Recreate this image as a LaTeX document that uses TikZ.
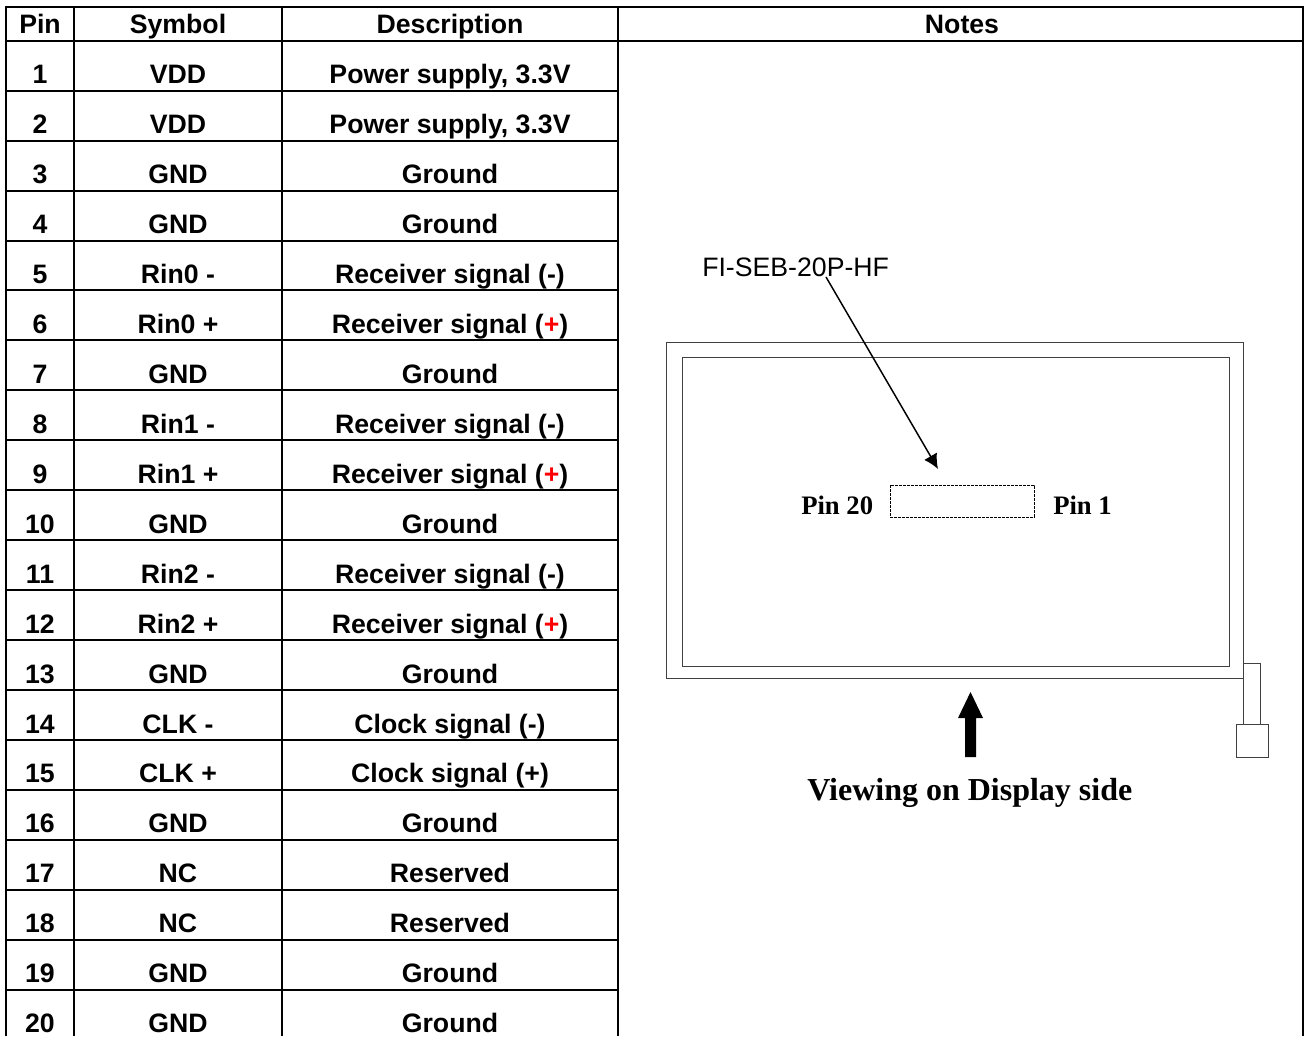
\documentclass[tikz,border=0pt]{standalone}
\usepackage{fontspec}
\setmainfont{Liberation Sans}
\newfontfamily\serifbold{Liberation Serif}[BoldFont={Liberation Serif Bold}]
\usetikzlibrary{arrows.meta}
\begin{document}
\begin{tikzpicture}[x=0.75pt,y=-0.75pt,
 grid/.style={line width=1.6pt,black},
 thin box/.style={draw=black!75,line width=0.75pt},
 cell/.style={inner sep=0pt,anchor=base,font=\fontsize{20}{22}\selectfont\bfseries},
 serif label/.style={inner sep=0pt,anchor=base west,font=\fontsize{20}{22}\serifbold\bfseries},
 callout/.style={draw=black,line width=1.1pt,-{Latex[length=11pt,width=11pt]}}]
\useasboundingbox (0,0) rectangle (1306,1036);
\fill[white] (0,0) rectangle (1306,1036);
% table grid
\draw[grid] (6,1036)--(6,7)--(1303,7)--(1303,1036);
\foreach \x in {74,282,618} \draw[grid] (\x,7)--(\x,1036);
\draw[grid] (6,41)--(1303,41);
\foreach \y in {91,141,191,241,290,340,390,440,490,540,590,640,690,740,790,840,890,940,990}
  \draw[grid] (6,\y)--(618,\y);
% header
\node[cell] (hp) at (40,33) {Pin};
\node[cell] (hs) at (178,33) {Symbol};
\node[cell] (hd) at (450,33) {Description};
\node[cell] (hn) at (962,33) {Notes};
% rows
\newcommand{\rowcells}[4]{%
 \node[cell] (p#2) at (40,#1) {#2};
 \node[cell] (s#2) at (178,#1) {#3};
 \node[cell] (d#2) at (450,#1) {#4};}
\newcommand{\redplus}{\textcolor{red}{+}}
\rowcells{83}{1}{VDD}{Power supply, 3.3V}
\rowcells{133}{2}{VDD}{Power supply, 3.3V}
\rowcells{183}{3}{GND}{Ground}
\rowcells{233}{4}{GND}{Ground}
\rowcells{283}{5}{Rin0 -}{Receiver signal (-)}
\rowcells{333}{6}{Rin0 +}{Receiver signal (\redplus)}
\rowcells{383}{7}{GND}{Ground}
\rowcells{433}{8}{Rin1 -}{Receiver signal (-)}
\rowcells{483}{9}{Rin1 +}{Receiver signal (\redplus)}
\rowcells{533}{10}{GND}{Ground}
\rowcells{583}{11}{Rin2 -}{Receiver signal (-)}
\rowcells{633}{12}{Rin2 +}{Receiver signal (\redplus)}
\rowcells{683}{13}{GND}{Ground}
\rowcells{733}{14}{CLK -}{Clock signal (-)}
\rowcells{782}{15}{CLK +}{Clock signal (+)}
\rowcells{832}{16}{GND}{Ground}
\rowcells{882}{17}{NC}{Reserved}
\rowcells{932}{18}{NC}{Reserved}
\rowcells{982}{19}{GND}{Ground}
\rowcells{1032}{20}{GND}{Ground}
% panel
\draw[thin box] (666,342) rectangle (1243,678);
\draw[thin box] (682,357) rectangle (1229,666);
\draw[thin box] (1243,663)--(1260,663)--(1260,724);
\draw[thin box] (1243,678)--(1243,724);
\draw[thin box] (1236,724) rectangle (1268,757);
% connector
\draw[black,line width=0.6pt,dash pattern=on 2pt off 1pt] (890,485) rectangle (1034,517);
\node[inner sep=0pt,anchor=base west,font=\fontsize{20}{22}\selectfont] (fi) at (702,276) {FI-SEB-20P-HF};
\coordinate (fistart) at (826,277);
\coordinate (fiend) at (938,469);
\draw[callout] (fistart)--(fiend);
\node[serif label] (p20) at (801,514) {Pin 20};
\node[serif label] (p1) at (1053,514) {Pin 1};
% big arrow
\fill[black] (965,757)--(976,757)--(976,718)--(983,718)--(970.5,692)--(958,718)--(965,718)--cycle;
\node[serif label,font=\fontsize{24}{26}\serifbold\bfseries] (view) at (807,800) {Viewing on Display side};
\end{tikzpicture}
\end{document}
